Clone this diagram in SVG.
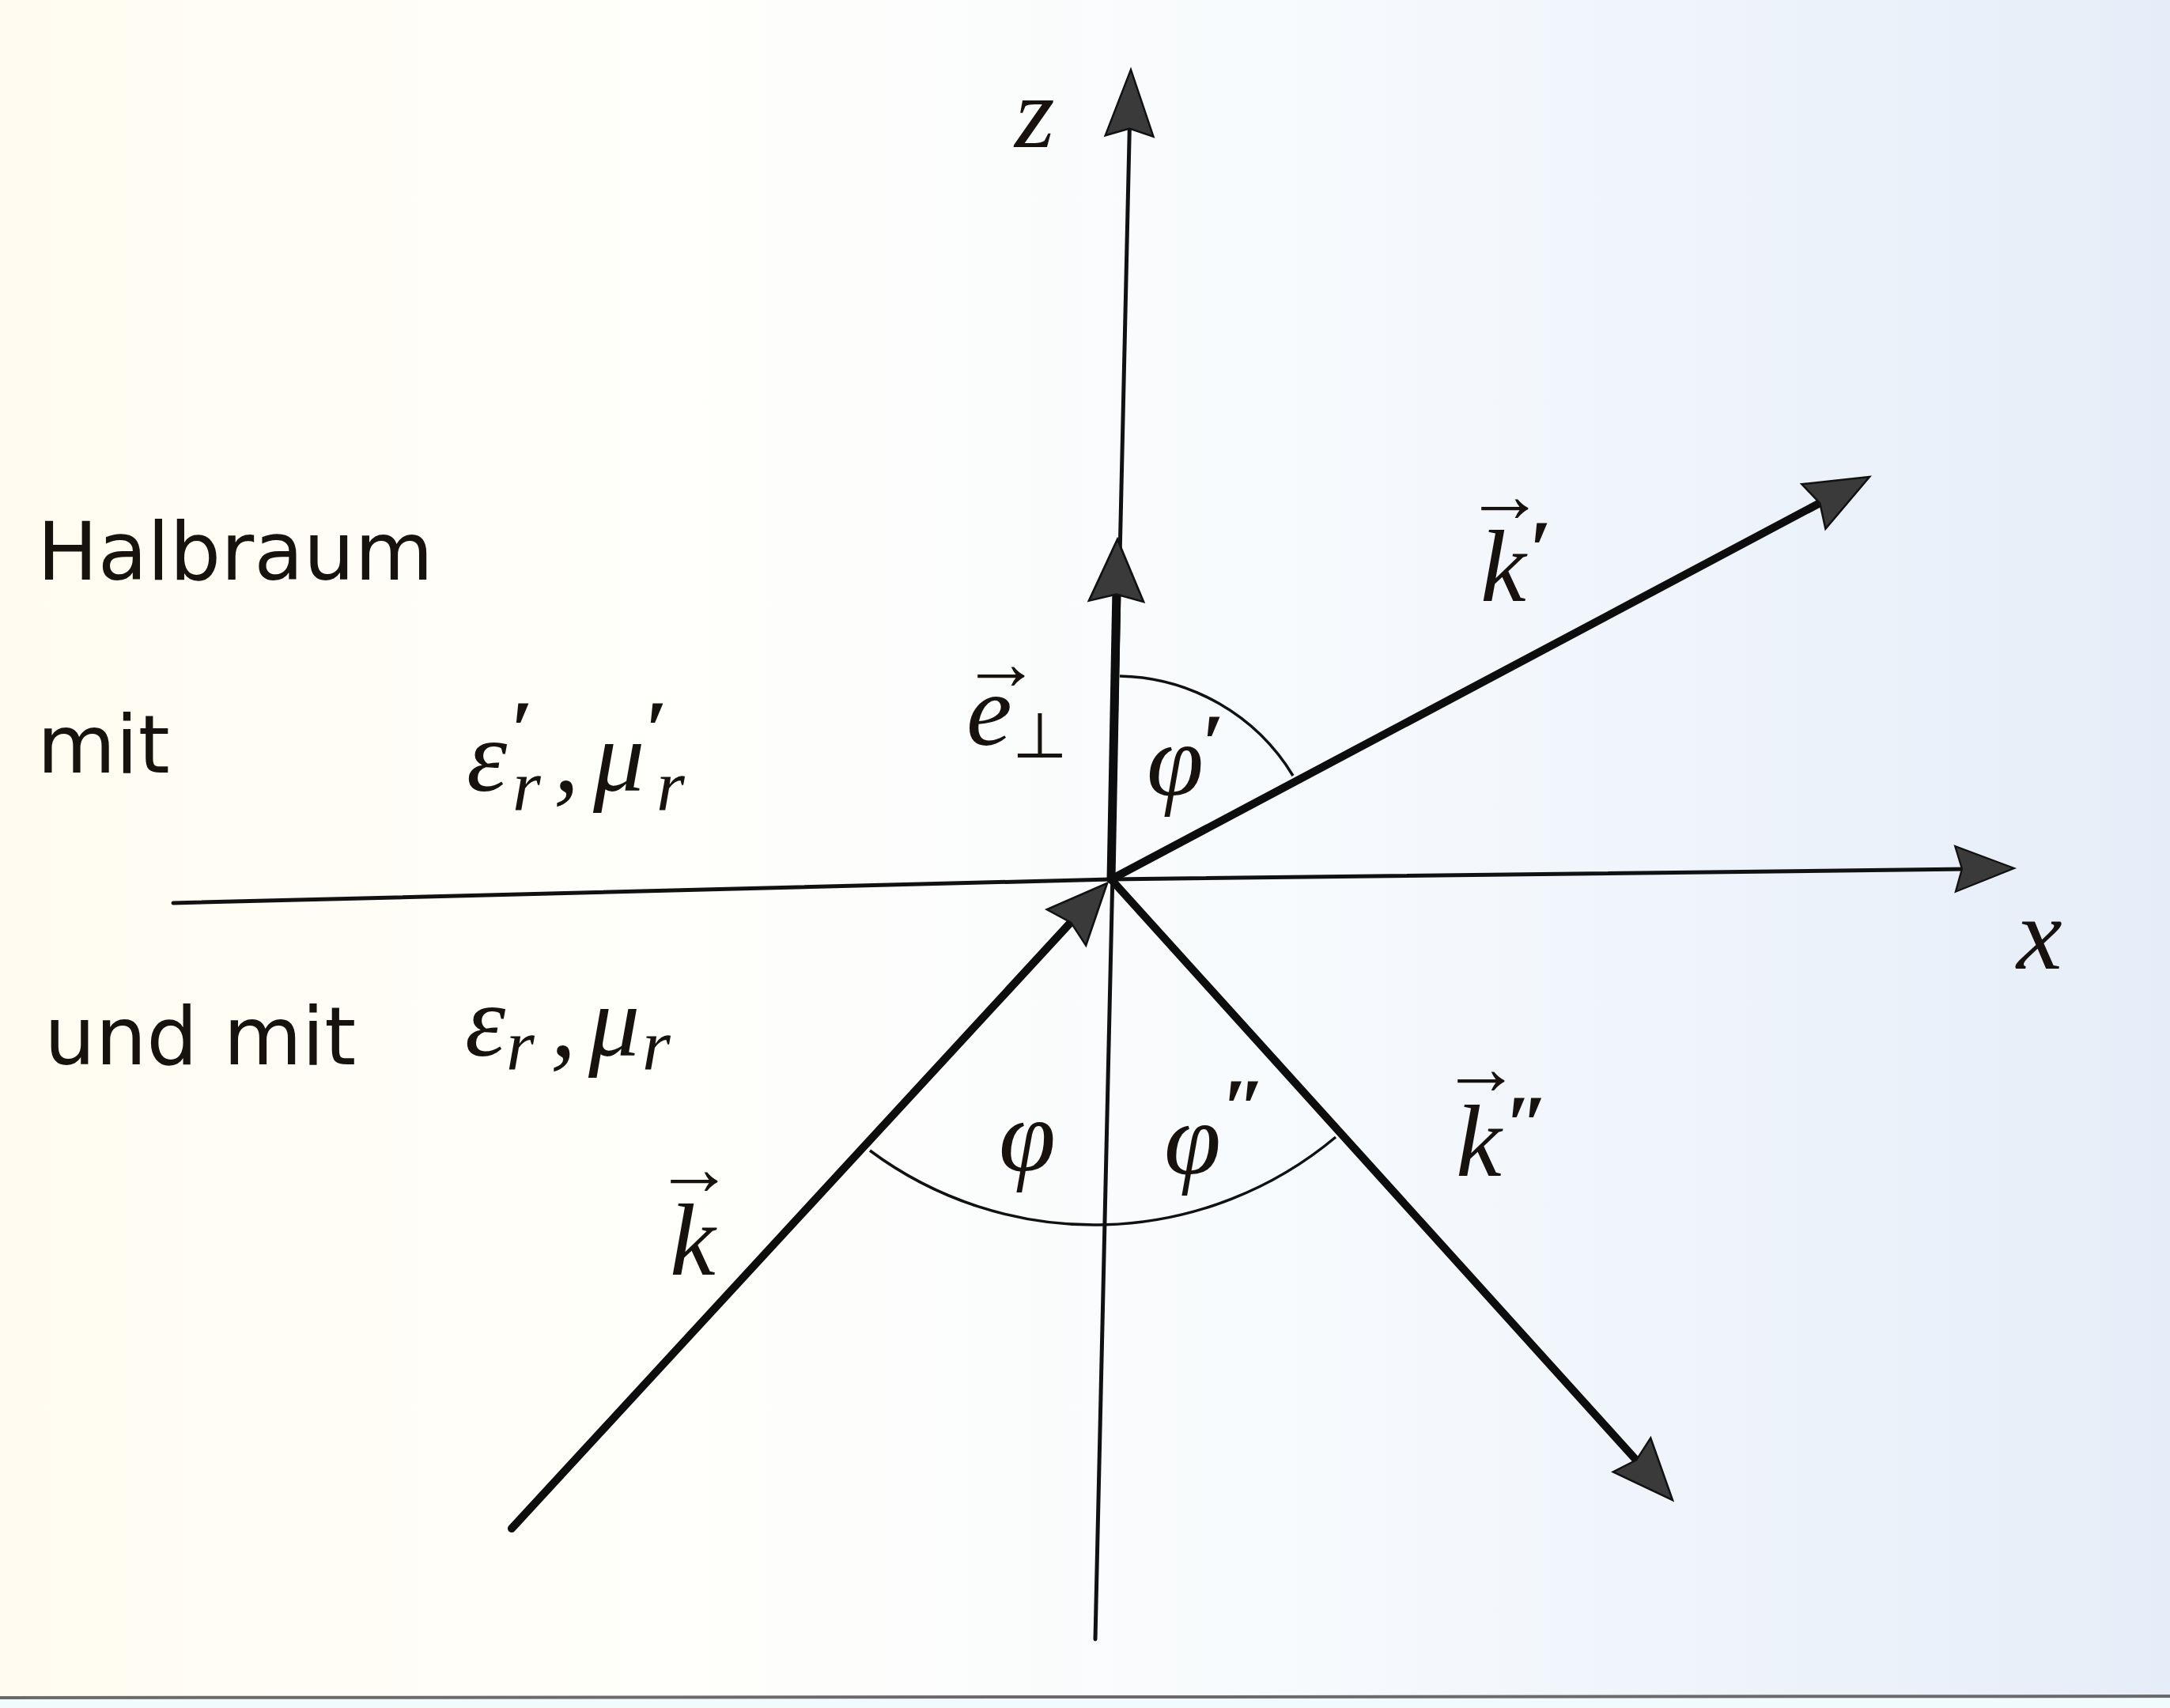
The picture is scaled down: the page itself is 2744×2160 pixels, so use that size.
<svg xmlns="http://www.w3.org/2000/svg" width="2744" height="2160" viewBox="0 0 2744 2160">
<defs>
  <linearGradient id="bg" x1="0" y1="0" x2="1" y2="0">
    <stop offset="0" stop-color="#fffbf0"/>
    <stop offset="0.3" stop-color="#fffffb"/>
    <stop offset="0.6" stop-color="#f7fafd"/>
    <stop offset="1" stop-color="#e5edf8"/>
  </linearGradient>
  <path id="ah" d="M0,0 L-80,-32 L-71,0 L-80,32 Z"/>
</defs>
<style>
  .sans{font-family:"DejaVu Sans",sans-serif;font-size:102px;fill:#17120e}
  .m{font-family:"Liberation Serif",serif;font-style:italic;font-size:130px;fill:#17120e}
  .sub{font-family:"Liberation Serif",serif;font-style:italic;font-size:92px;fill:#17120e}
  .pr{font-family:"Liberation Serif",serif;font-weight:bold;font-size:104px;fill:#17120e}
  .acc{font-family:"Liberation Serif",serif;font-size:100px;fill:#17120e;text-anchor:middle}
  .perp{font-family:"DejaVu Sans",sans-serif;font-size:80px;fill:#17120e}
  .axis{stroke:#111;stroke-width:5;fill:none;stroke-linecap:round;stroke-linejoin:round}
  .vec{stroke:#0d0d0d;stroke-width:10;stroke-linecap:round;fill:none}
  .arc{stroke:#111;stroke-width:3.5;fill:none}
  .head{fill:#3a3a3a;stroke:#111;stroke-width:2.5;stroke-linejoin:miter}
</style>
<rect x="0" y="0" width="2744" height="2160" fill="url(#bg)"/>
<rect x="0" y="2148" width="2744" height="12" fill="#f1fbfe"/>
<line x1="0" y1="2147" x2="2744" y2="2145" stroke="#6a6a6a" stroke-width="4"/>

<g id="connectors">
  <line class="axis" x1="1385" y1="2073" x2="1428.6" y2="150"/>
  <use href="#ah" class="head" transform="translate(1430,88) rotate(-88.7) scale(1.05,0.95)"/>
  <path class="axis" d="M219,1142 L1405,1112 L2487,1099"/>
  <use href="#ah" class="head" transform="translate(2547,1098) rotate(-0.7) scale(0.93,0.9)"/>
  <path class="arc" d="M1416,855 A262,262 0 0 1 1635,981"/>
  <path class="arc" d="M1100,1455 A475,475 0 0 0 1689,1438"/>
  <line class="vec" x1="1405" y1="1112" x2="1412" y2="744" style="stroke-width:11"/>
  <use href="#ah" class="head" transform="translate(1413,682) rotate(-88.9) scale(0.98,1.08)"/>
  <line class="vec" x1="647" y1="1933" x2="1359" y2="1161"/>
  <use href="#ah" class="head" transform="translate(1400,1117) rotate(-47.3) scale(0.95,1.05)"/>
  <line class="vec" x1="1405" y1="1112" x2="2311" y2="631"/>
  <use href="#ah" class="head" transform="translate(2364,603) rotate(-28)"/>
  <line class="vec" x1="1405" y1="1112" x2="2074" y2="1852"/>
  <use href="#ah" class="head" transform="translate(2115,1897) rotate(47.9) scale(0.96,1)"/>
</g>

<g id="label-halbraum"><text class="sans" x="47" y="733">Halbraum</text></g>
<g id="label-mit"><text class="sans" x="47" y="977">mit</text></g>
<g id="label-und-mit"><text class="sans" x="56" y="1346">und mit</text></g>

<g id="label-eps-mu-prime">
  <text class="m" x="590" y="1000">ε</text>
  <text class="pr" x="646" y="958">′</text>
  <text class="sub" x="648" y="1024">r</text>
  <text class="m" x="700" y="1000">,</text>
  <text class="m" x="750" y="1000">μ</text>
  <text class="pr" x="816" y="958">′</text>
  <text class="sub" x="830" y="1024">r</text>
</g>
<g id="label-eps-mu">
  <text class="m" x="588" y="1335">ε</text>
  <text class="sub" x="640" y="1352">r</text>
  <text class="m" x="696" y="1335">,</text>
  <text class="m" x="744" y="1335">μ</text>
  <text class="sub" x="812" y="1352">r</text>
</g>

<g id="label-z"><text class="m" x="1283" y="186">z</text></g>
<g id="label-x"><text class="m" x="2550" y="1225">x</text></g>

<g id="label-e-perp">
  <text class="acc" x="1266" y="872">→</text>
  <text class="m" x="1222" y="942">e</text>
  <text class="perp" x="1280" y="958">⊥</text>
</g>
<g id="label-k-prime">
  <text class="acc" x="1903" y="660">→</text>
  <text class="m" x="1872" y="760">k</text>
  <text class="pr" x="1934" y="730">′</text>
</g>
<g id="label-k-dprime">
  <text class="acc" x="1873" y="1384">→</text>
  <text class="m" x="1841" y="1487">k</text>
  <text class="pr" x="1902" y="1457">″</text>
</g>
<g id="label-k">
  <text class="acc" x="878" y="1511">→</text>
  <text class="m" x="847" y="1612">k</text>
</g>
<g id="label-phi-prime">
  <text class="m" x="1450" y="1005">φ</text>
  <text class="pr" x="1520" y="975">′</text>
</g>
<g id="label-phi"><text class="m" x="1263" y="1480">φ</text></g>
<g id="label-phi-dprime">
  <text class="m" x="1472" y="1484">φ</text>
  <text class="pr" x="1544" y="1436">″</text>
</g>
</svg>
